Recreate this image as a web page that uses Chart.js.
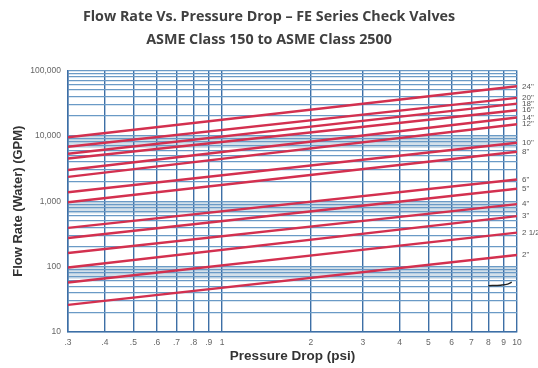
<!DOCTYPE html>
<html><head><meta charset="utf-8">
<script src="https://cdn.jsdelivr.net/npm/chart.js@4/dist/chart.umd.min.js"></script>
<style>html,body{margin:0;padding:0;background:#fff;overflow:hidden}</style>
</head><body><canvas id="c" width="538" height="368"></canvas>
<script>
const valveSizes = ['24"','20"','18"','16"','14"','12"','10"','8"','6"','5"','4"','3"','2 1/2','2"'];
const pressureEnds = [0.3, 10];
const flowAtLowDrop = [9500,6800,5300,4500,3000,2350,1370,960,390,273,161,97,57,26];
const flowAtHighDrop = [57000,38000,31000,24500,19000,15000,7800,5700,2150,1550,900,590,330,150];
const curvePressure = [8,8.8,9.3,9.6];
const curveFlow = [51,52,54,58];
const xTickValues = [0.3,0.4,0.5,0.6,0.7,0.8,0.9,1,2,3,4,5,6,7,8,9,10];
const xTickLabels = ['.3','.4','.5','.6','.7','.8','.9','1','2','3','4','5','6','7','8','9','10'];
const yMajorValues = [10,100,1000,10000,100000];
const yMajorLabels = ['10','100','1,000','10,000','100,000'];
const shadedBands = [[6500,10000],[650,1000],[65,100]];

const yGridValues = [];
for (let d = 10; d < 100000; d *= 10) for (let m = 1; m <= 9; m++) yGridValues.push(d * m);
yGridValues.push(100000);

const datasets = valveSizes.map((s, i) => ({
  label: s,
  data: [{x: pressureEnds[0], y: flowAtLowDrop[i]}, {x: pressureEnds[1], y: flowAtHighDrop[i]}],
  borderColor: '#d3304f', borderWidth: 2.4, pointRadius: 0, isValve: true
}));
datasets.push({
  label: 'curve',
  data: curvePressure.map((p, i) => ({x: p, y: curveFlow[i]})),
  borderColor: '#222', borderWidth: 1.5, pointRadius: 0, tension: 0.4, cubicInterpolationMode: 'monotone'
});

const bandPlugin = {
  id: 'bands',
  beforeDraw(chart) {
    const {ctx, chartArea, scales} = chart;
    ctx.save();
    ctx.fillStyle = 'rgba(150,180,205,0.42)';
    shadedBands.forEach(([lo, hi]) => {
      const y1 = scales.y.getPixelForValue(hi), y2 = scales.y.getPixelForValue(lo);
      ctx.fillRect(chartArea.left, y1, chartArea.right - chartArea.left, y2 - y1);
    });
    ctx.restore();
  }
};
const labelPlugin = {
  id: 'endLabels',
  afterDatasetsDraw(chart) {
    const {ctx, chartArea} = chart;
    ctx.save();
    ctx.font = '8px "Liberation Sans", Arial, sans-serif';
    ctx.fillStyle = '#555';
    ctx.textBaseline = 'middle';
    ctx.textAlign = 'left';
    chart.data.datasets.forEach((ds, i) => {
      if (!ds.isValve) return;
      const pts = chart.getDatasetMeta(i).data;
      const p = pts[pts.length - 1];
      ctx.fillText(ds.label, chartArea.right + 5, p.y);
    });
    ctx.restore();
  }
};

new Chart(document.getElementById('c'), {
  type: 'line',
  data: {datasets},
  plugins: [bandPlugin, labelPlugin],
  options: {
    responsive: false, animation: false,
    layout: {padding: 0},
    plugins: {
      legend: {display: false}, tooltip: {enabled: false},
      title: {
        display: true,
        text: ['Flow Rate Vs. Pressure Drop \u2013 FE Series Check Valves', 'ASME Class 150 to ASME Class 2500'],
        color: '#404040',
        font: {family: '"Open Sans", sans-serif', size: 14.3, weight: 'bold', lineHeight: 1.62},
        padding: {top: 5, bottom: 19}
      }
    },
    scales: {
      x: {
        type: 'logarithmic', min: 0.3, max: 10,
        afterBuildTicks(s) { s.ticks = xTickValues.map(v => ({value: v})); },
        afterFit(s) { s.height = 36; },
        ticks: {
          autoSkip: false, maxRotation: 0, padding: 6, color: '#666',
          font: {family: '"Liberation Sans", Arial, sans-serif', size: 8.5},
          callback(v) { const i = xTickValues.indexOf(v); return i >= 0 ? xTickLabels[i] : ''; }
        },
        grid: {color: '#3d6fa6', lineWidth: 1.4, drawTicks: false},
        border: {color: '#3d6fa6', width: 1.5},
        title: {display: true, text: 'Pressure Drop (psi)', color: '#333',
          font: {family: '"Liberation Sans", Arial, sans-serif', size: 13.5, weight: 'bold'},
          padding: {top: 0, bottom: 4}}
      },
      y: {
        type: 'logarithmic', min: 10, max: 100000,
        afterBuildTicks(s) { s.ticks = yGridValues.map(v => ({value: v})); },
        afterFit(s) { s.width = 68; },
        ticks: {
          autoSkip: false, padding: 7, color: '#666',
          font: {family: '"Liberation Sans", Arial, sans-serif', size: 8.5},
          callback(v) { const i = yMajorValues.indexOf(v); return i >= 0 ? yMajorLabels[i] : ''; }
        },
        grid: {color: '#6a9ac6', lineWidth: 1.3, drawTicks: false},
        border: {color: '#3d6fa6', width: 1.5},
        title: {display: true, text: 'Flow Rate (Water) (GPM)', color: '#333',
          font: {family: '"Liberation Sans", Arial, sans-serif', size: 13, weight: 'bold'},
          padding: {top: 11, bottom: 0}}
      },
      yRightSpace: {
        type: 'linear', position: 'right', display: true,
        afterFit(s) { s.width = 21; },
        ticks: {display: false}, grid: {display: false, drawTicks: false}, border: {display: false}
      }
    }
  }
});
</script></body></html>
